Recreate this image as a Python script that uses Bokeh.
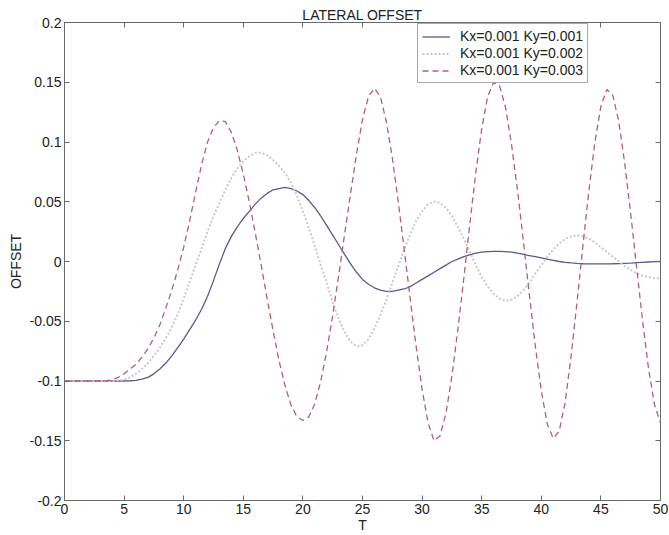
import numpy as np
from bokeh.plotting import figure
from bokeh.models import Range1d, FixedTicker, LinearAxis, Legend, LegendItem
from bokeh.embed import file_html
from bokeh.resources import INLINE

# ---------------- data ----------------
T = np.arange(0, 50.5, 0.5)

ky001 = [-0.1, -0.1, -0.1, -0.1, -0.1, -0.1, -0.1, -0.1, -0.1, -0.1, -0.1,
         -0.0998, -0.0995, -0.0985, -0.097, -0.094, -0.09, -0.085, -0.079, -0.072, -0.065,
         -0.057, -0.049, -0.04, -0.029, -0.016, -0.002, 0.011, 0.021, 0.029, 0.036,
         0.042, 0.048, 0.053, 0.057, 0.06, 0.061, 0.062, 0.061, 0.059, 0.056,
         0.051, 0.045, 0.038, 0.03, 0.022, 0.014, 0.006, -0.002, -0.009, -0.015,
         -0.019, -0.022, -0.024, -0.025, -0.025, -0.024, -0.023, -0.021, -0.018, -0.015,
         -0.012, -0.009, -0.006, -0.003, 0.0, 0.002, 0.004, 0.0055, 0.007, 0.0078,
         0.0083, 0.0085, 0.0085, 0.0083, 0.0078, 0.007, 0.006, 0.005, 0.004, 0.003,
         0.002, 0.001, 0.0, -0.0007, -0.0012, -0.0016, -0.0019, -0.002, -0.002, -0.002,
         -0.002, -0.0019, -0.0017, -0.0015, -0.0013, -0.001, -0.0007, -0.0004, -0.0001, 0.0]

ky002 = [-0.1, -0.1, -0.1, -0.1, -0.1, -0.1, -0.1, -0.1, -0.1, -0.0995, -0.099,
         -0.097, -0.094, -0.09, -0.085, -0.079, -0.072, -0.064, -0.055, -0.044, -0.031,
         -0.017, -0.003, 0.011, 0.025, 0.038, 0.049, 0.06, 0.07, 0.078, 0.084,
         0.088, 0.091, 0.091, 0.089, 0.085, 0.08, 0.074, 0.066, 0.055, 0.042,
         0.028, 0.013, -0.003, -0.018, -0.034, -0.048, -0.059, -0.067, -0.071, -0.07,
         -0.065, -0.056, -0.045, -0.032, -0.018, -0.004, 0.01, 0.023, 0.034, 0.042,
         0.048, 0.05, 0.049, 0.045, 0.038, 0.029, 0.019, 0.008, -0.003, -0.013,
         -0.021, -0.027, -0.031, -0.033, -0.032, -0.029, -0.024, -0.018, -0.01, -0.003,
         0.004, 0.01, 0.015, 0.019, 0.021, 0.022, 0.021, 0.019, 0.016, 0.012,
         0.008, 0.004, 0.0, -0.004, -0.007, -0.01, -0.012, -0.013, -0.014, -0.014]

ky003 = [-0.1, -0.1, -0.1, -0.1, -0.1, -0.1, -0.1, -0.0998, -0.099, -0.097, -0.094,
         -0.09, -0.086, -0.08, -0.073, -0.064, -0.053, -0.039, -0.024, -0.007, 0.012,
         0.034, 0.058, 0.081, 0.1, 0.112, 0.118, 0.117, 0.108, 0.093, 0.073,
         0.05, 0.024, -0.003, -0.031, -0.058, -0.083, -0.104, -0.12, -0.13, -0.133,
         -0.13, -0.119, -0.1, -0.075, -0.045, -0.012, 0.023, 0.057, 0.09, 0.119,
         0.138, 0.145, 0.138, 0.117, 0.087, 0.05, 0.01, -0.031, -0.071, -0.107,
         -0.135, -0.15, -0.146, -0.127, -0.096, -0.057, -0.014, 0.031, 0.074, 0.111,
         0.138, 0.15, 0.147, 0.129, 0.098, 0.06, 0.017, -0.028, -0.071, -0.108,
         -0.136, -0.148, -0.142, -0.118, -0.079, -0.034, 0.014, 0.06, 0.1, 0.13,
         0.144, 0.139, 0.117, 0.082, 0.04, -0.005, -0.05, -0.09, -0.12, -0.135]

series_labels = ["Kx=0.001 Ky=0.001", "Kx=0.001 Ky=0.002", "Kx=0.001 Ky=0.003"]
x_ticks = [0, 5, 10, 15, 20, 25, 30, 35, 40, 45, 50]
y_ticks = [-0.2, -0.15, -0.1, -0.05, 0, 0.05, 0.1, 0.15, 0.2]
y_tick_labels = ["-0.2", "-0.15", "-0.1", "-0.05", "0", "0.05", "0.1", "0.15", "0.2"]

FONT = "Liberation Sans"
AX = "#6a6a6a"
TXT = "#222222"
FS = "14px"

p = figure(width=669, height=535, output_backend="svg", toolbar_location=None,
           x_range=Range1d(0, 50), y_range=Range1d(-0.2, 0.2),
           min_border_left=64, min_border_right=9, min_border_top=22, min_border_bottom=35)
p.title.text = "LATERAL OFFSET"
p.title.align = "center"
p.title.text_font = FONT
p.title.text_font_size = FS
p.title.text_font_style = "normal"
p.title.text_color = TXT
p.title.standoff = 0
p.xgrid.visible = False
p.ygrid.visible = False
p.outline_line_color = AX
p.background_fill_color = "white"
p.border_fill_color = "white"

def style_axis(ax, show_labels=True):
    ax.axis_line_color = AX
    ax.major_tick_line_color = AX
    ax.major_tick_in = 5
    ax.major_tick_out = 0
    ax.minor_tick_line_color = None
    ax.major_label_text_font = FONT
    ax.axis_label_text_font = FONT
    ax.axis_label_text_font_size = FS
    ax.axis_label_text_font_style = "normal"
    ax.axis_label_text_color = TXT
    if show_labels:
        ax.major_label_text_font_size = FS
        ax.major_label_text_color = TXT
    else:
        ax.major_label_text_font_size = "1px"
        ax.major_label_text_color = None
        ax.major_label_standoff = 0

xt = FixedTicker(ticks=x_ticks)
yt = FixedTicker(ticks=y_ticks)
yover = {v: s for v, s in zip(y_ticks, y_tick_labels)}

p.xaxis.ticker = xt
p.yaxis.ticker = yt
p.yaxis.major_label_overrides = yover
p.xaxis.axis_label = "T"
p.yaxis.axis_label = "OFFSET"
style_axis(p.xaxis[0])
style_axis(p.yaxis[0])
p.xaxis.major_label_standoff = 3
p.xaxis.axis_label_standoff = 0
p.yaxis.major_label_standoff = 3
p.yaxis.axis_label_standoff = 3

top_ax = LinearAxis(ticker=xt)
style_axis(top_ax, show_labels=False)
right_ax = LinearAxis(ticker=yt)
style_axis(right_ax, show_labels=False)
p.add_layout(top_ax, "above")
p.add_layout(right_ax, "right")

r1 = p.line(T, ky001, line_color="#585b8f", line_width=1.3)
r2 = p.line(T, ky002, line_color="#c8c8d0", line_width=2, line_dash="2 2")
r3 = p.line(T, ky003, line_color="#b4606c", line_width=1.3, line_dash="6 4")

legend = Legend(items=[LegendItem(label=series_labels[0], renderers=[r1]),
                       LegendItem(label=series_labels[1], renderers=[r2]),
                       LegendItem(label=series_labels[2], renderers=[r3])],
                location=(353, 417))
legend.label_text_font = FONT
legend.label_text_font_size = FS
legend.label_text_color = TXT
legend.label_height = 15
legend.glyph_height = 15
legend.glyph_width = 28
legend.label_standoff = 10
legend.spacing = 1
legend.padding = 4
legend.margin = 0
legend.border_line_color = "#555555"
legend.background_fill_alpha = 1.0
p.add_layout(legend)

open("out.html", "w").write(file_html(p, INLINE))
